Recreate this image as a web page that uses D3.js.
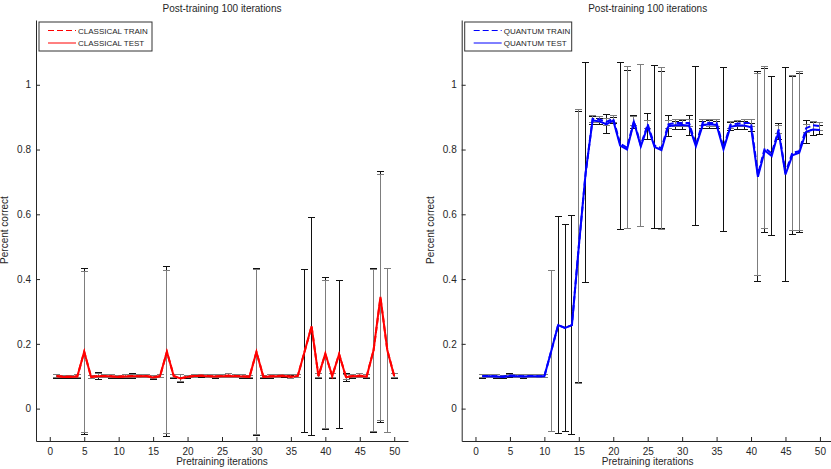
<!DOCTYPE html>
<html>
<head>
<meta charset="utf-8">
<script src="https://cdn.jsdelivr.net/npm/d3@7"></script>
<style>
  body { margin: 0; background: #fff; }
  svg text { font-family: "Liberation Sans", Arial, sans-serif; fill: #262626; }
</style>
</head>
<body>
<div id="chart"></div>
<script>
// pretraining iterations 1..50
var iterations = d3.range(1, 51);
var xTicks = [0, 5, 10, 15, 20, 25, 30, 35, 40, 45, 50];
var yTicks = [0, 0.2, 0.4, 0.6, 0.8, 1];

// classical (an error of 0 means no bar drawn for that series)
var classTrainMean = [0.101, 0.099, 0.099, 0.100, 0.175, 0.098, 0.101, 0.101, 0.100, 0.099,
                      0.100, 0.101, 0.100, 0.101, 0.097, 0.100, 0.175, 0.101, 0.094, 0.099,
                      0.101, 0.102, 0.101, 0.100, 0.101, 0.102, 0.101, 0.100, 0.099, 0.175,
                      0.099, 0.100, 0.101, 0.102, 0.099, 0.101, 0.177, 0.254, 0.101, 0.168,
                      0.101, 0.168, 0.098, 0.101, 0.102, 0.100, 0.180, 0.342, 0.180, 0.101];
var classTrainErr  = [0.005, 0.004, 0.004, 0.004, 0.248, 0.005, 0.006, 0.004, 0.004, 0.004,
                      0.004, 0.005, 0.004, 0.004, 0.005, 0.004, 0.252, 0.005, 0.010, 0.004,
                      0.004, 0.004, 0.004, 0.004, 0.004, 0.005, 0.004, 0.004, 0.004, 0.256,
                      0.004, 0.004, 0.004, 0.004, 0.005, 0.004, 0,     0,     0.006, 0.229,
                      0.006, 0,     0.008, 0.005, 0.005, 0.004, 0.250, 0.380, 0.254, 0.006];
var classTestMean  = [0.100, 0.098, 0.098, 0.099, 0.176, 0.097, 0.100, 0.101, 0.099, 0.098,
                      0.099, 0.100, 0.100, 0.101, 0.096, 0.100, 0.176, 0.100, 0.093, 0.098,
                      0.101, 0.101, 0.100, 0.099, 0.100, 0.101, 0.100, 0.099, 0.098, 0.175,
                      0.098, 0.099, 0.100, 0.101, 0.098, 0.101, 0.177, 0.254, 0.100, 0.170,
                      0.100, 0.168, 0.097, 0.100, 0.101, 0.099, 0.180, 0.345, 0.180, 0.100];
var classTestErr   = [0.006, 0.005, 0.005, 0.005, 0.256, 0.005, 0.010, 0.005, 0.005, 0.005,
                      0.005, 0.008, 0.005, 0.005, 0.007, 0.005, 0.262, 0.006, 0.013, 0.005,
                      0.005, 0.005, 0.005, 0.005, 0.005, 0.006, 0.005, 0.005, 0.005, 0.258,
                      0.005, 0.005, 0.005, 0.005, 0.005, 0.005, 0.252, 0.337, 0.008, 0.235,
                      0.008, 0.229, 0.012, 0.006, 0.006, 0.006, 0.254, 0.388, 0,     0.007];

// quantum
var quantTrainMean = [0.101, 0.101, 0.100, 0.099, 0.102, 0.101, 0.100, 0.101, 0.100, 0.100,
                      0.178, 0.258, 0.249, 0.258, 0.502, 0.728, 0.895, 0.893, 0.885, 0.895,
                      0.818, 0.806, 0.888, 0.813, 0.878, 0.812, 0.804, 0.878, 0.882, 0.882,
                      0.882, 0.815, 0.884, 0.882, 0.882, 0.806, 0.876, 0.880, 0.882, 0.882,
                      0.722, 0.805, 0.788, 0.862, 0.728, 0.790, 0.795, 0.866, 0.875, 0.872];
var quantTrainErr  = [0.005, 0.004, 0.004, 0.004, 0.004, 0.004, 0.004, 0.004, 0.004, 0.004,
                      0.250, 0,     0,     0,     0.423, 0,     0.010, 0.010, 0.012, 0.010,
                      0,     0.250, 0.015, 0.250, 0.012, 0,     0.250, 0.012, 0.012, 0.012,
                      0.012, 0,     0.010, 0.010, 0.010, 0,     0.010, 0.010, 0.012, 0.012,
                      0.312, 0.250, 0,     0.012, 0,     0.240, 0.245, 0.012, 0.012, 0.012];
var quantTestMean  = [0.100, 0.100, 0.099, 0.098, 0.101, 0.100, 0.099, 0.100, 0.100, 0.100,
                      0.178, 0.258, 0.249, 0.258, 0.500, 0.730, 0.890, 0.887, 0.878, 0.890,
                      0.812, 0.800, 0.885, 0.810, 0.872, 0.808, 0.798, 0.872, 0.875, 0.876,
                      0.874, 0.810, 0.876, 0.878, 0.876, 0.800, 0.870, 0.874, 0.874, 0.869,
                      0.716, 0.797, 0.780, 0.856, 0.723, 0.782, 0.790, 0.855, 0.862, 0.860];
var quantTestErr   = [0.006, 0.005, 0.005, 0.005, 0.006, 0.005, 0.005, 0.005, 0.005, 0.005,
                      0,     0.336, 0.319, 0.338, 0.418, 0.340, 0.012, 0.010, 0.030, 0.010,
                      0.258, 0.245, 0.020, 0,     0.040, 0.252, 0.243, 0.033, 0.012, 0.015,
                      0.030, 0.245, 0.012, 0.012, 0.012, 0.252, 0.012, 0.012, 0.012, 0.012,
                      0.325, 0.252, 0.245, 0.025, 0.330, 0.245, 0.245, 0.035, 0.020, 0.015];

var W = 831, H = 469;
var svg = d3.select('#chart').append('svg')
    .attr('width', W)
    .attr('height', H);

function rows(mean, err) {
    return iterations.map(function (n, i) { return {x: n, y: mean[i], e: err[i]}; });
}

function drawErrorBars(g, data, xScale, yScale, color) {
    var bars = g.append('g')
        .attr('stroke', color)
        .attr('stroke-width', 1)
        .attr('fill', 'none')
        .attr('shape-rendering', 'crispEdges');
    var eb = bars.selectAll('g')
        .data(data.filter(function (d) { return d.e > 0; }))
        .enter().append('g');
    eb.append('line')
        .attr('x1', function (d) { return xScale(d.x); })
        .attr('x2', function (d) { return xScale(d.x); })
        .attr('y1', function (d) { return yScale(d.y - d.e); })
        .attr('y2', function (d) { return yScale(d.y + d.e); });
    [1, -1].forEach(function (s) {
        eb.append('line')
            .attr('x1', function (d) { return xScale(d.x) - 3.5; })
            .attr('x2', function (d) { return xScale(d.x) + 3.5; })
            .attr('y1', function (d) { return yScale(d.y + s * d.e); })
            .attr('y2', function (d) { return yScale(d.y + s * d.e); });
    });
}

function drawPanel(opts) {
    var xScale = d3.scaleLinear().domain([-2, 52]).range([opts.left, opts.left + 372]);
    var yScale = d3.scaleLinear().domain([-0.1, 1.2]).range([441, 20]);
    var g = svg.append('g');

    // error bars: test (black) under train (gray)
    drawErrorBars(g, rows(opts.testMean, opts.testErr), xScale, yScale, '#111');
    drawErrorBars(g, rows(opts.trainMean, opts.trainErr), xScale, yScale, '#7d7d7d');

    var line = d3.line().x(function (d) { return xScale(d.x); }).y(function (d) { return yScale(d.y); });
    g.append('path')
        .datum(rows(opts.trainMean, opts.trainErr))
        .attr('d', line)
        .attr('fill', 'none')
        .attr('stroke', opts.color)
        .attr('stroke-width', 2)
        .attr('stroke-dasharray', '6,3');
    g.append('path')
        .datum(rows(opts.testMean, opts.testErr))
        .attr('d', line)
        .attr('fill', 'none')
        .attr('stroke', opts.color)
        .attr('stroke-width', 2);

    // axes, ticks pointing inwards
    var xAxis = g.append('g')
        .attr('transform', 'translate(0,441)')
        .call(d3.axisBottom(xScale).tickValues(xTicks).tickSizeInner(-4).tickSizeOuter(0).tickPadding(7));
    var yAxis = g.append('g')
        .attr('transform', 'translate(' + opts.left + ',0)')
        .call(d3.axisLeft(yScale).tickValues(yTicks).tickFormat(d3.format('~g')).tickSizeInner(-4).tickSizeOuter(0).tickPadding(5));
    [xAxis, yAxis].forEach(function (a) {
        a.select('.domain').attr('stroke', '#262626');
        a.selectAll('.tick line').attr('stroke', '#262626');
        a.selectAll('text').attr('font-size', 10).attr('font-family', '"Liberation Sans", Arial, sans-serif').attr('fill', '#262626');
    });

    g.append('text')
        .attr('x', opts.left + 186)
        .attr('y', 12)
        .attr('text-anchor', 'middle')
        .attr('font-size', 10)
        .text('Post-training 100 iterations');
    g.append('text')
        .attr('x', opts.left + 186)
        .attr('y', 465)
        .attr('text-anchor', 'middle')
        .attr('font-size', 10)
        .text('Pretraining iterations');
    g.append('text')
        .attr('transform', 'translate(' + (opts.left - 28) + ',230) rotate(-90)')
        .attr('text-anchor', 'middle')
        .attr('font-size', 10)
        .text('Percent correct');

    // legend
    var lg = g.append('g').attr('transform', 'translate(' + (opts.left + 3) + ',22)');
    lg.append('rect')
        .attr('width', opts.legendW)
        .attr('height', 29)
        .attr('fill', '#fff')
        .attr('stroke', '#333')
        .attr('stroke-width', 1);
    opts.legend.forEach(function (label, i) {
        var yy = 8.5 + i * 12.5;
        lg.append('line')
            .attr('x1', 9).attr('x2', 37)
            .attr('y1', yy).attr('y2', yy)
            .attr('stroke', opts.color)
            .attr('stroke-width', 1)
            .attr('stroke-dasharray', i === 0 ? '6,3' : null);
        lg.append('text')
            .attr('x', 39)
            .attr('y', yy + 3)
            .attr('font-size', 8)
            .text(label);
    });
}

drawPanel({
    left: 36, color: '#ff0000', legendW: 113,
    trainMean: classTrainMean, trainErr: classTrainErr,
    testMean: classTestMean, testErr: classTestErr,
    legend: ['CLASSICAL TRAIN', 'CLASSICAL TEST']
});
drawPanel({
    left: 461.7, color: '#0000ff', legendW: 107,
    trainMean: quantTrainMean, trainErr: quantTrainErr,
    testMean: quantTestMean, testErr: quantTestErr,
    legend: ['QUANTUM TRAIN', 'QUANTUM TEST']
});
</script>
</body>
</html>
